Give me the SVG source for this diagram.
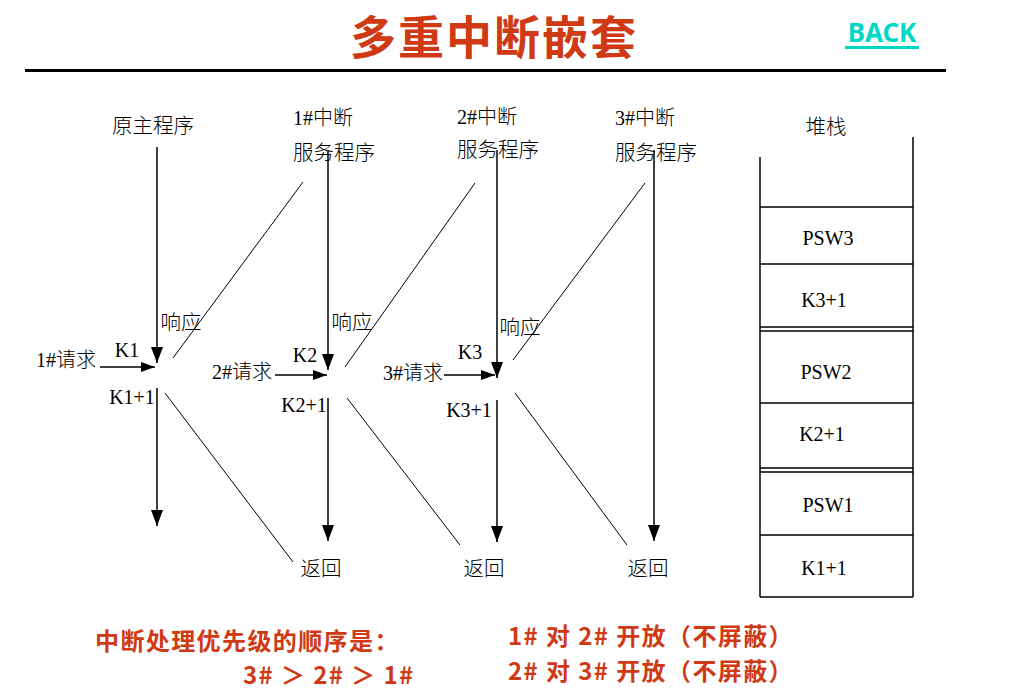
<svg xmlns="http://www.w3.org/2000/svg" width="1009" height="691" viewBox="0 0 1009 691">
  <style>
    .lbl { font-family: "Liberation Serif", "Noto Sans CJK SC", serif; font-size: 20px; fill: #000; font-weight: 300; }
    .cn { font-family: "Noto Sans CJK SC", sans-serif; font-size: 20.5px; fill: #000; font-weight: 300; }
    .red { font-family: "Noto Sans CJK SC", sans-serif; font-weight: bold; fill: #cf3a14; }
    .note { font-size: 24px; letter-spacing: 1.4px; }
    .flow { stroke: #000; stroke-width: 1.5; fill: none; }
    .thin { stroke: #000; stroke-width: 1; fill: none; }
    .stk { stroke: #000; stroke-width: 1.5; fill: none; }
  </style>
  <defs>
    <marker id="ah" markerUnits="userSpaceOnUse" markerWidth="16" markerHeight="12" refX="16" refY="6" orient="auto">
      <path d="M0,0 L16,6 L0,12 z" fill="#000"/>
    </marker>
    <marker id="ahs" markerUnits="userSpaceOnUse" markerWidth="14" markerHeight="10" refX="14" refY="5" orient="auto">
      <path d="M0,0 L14,5 L0,10 z" fill="#000"/>
    </marker>
  </defs>

  <rect width="1009" height="691" fill="#fff"/>

  <!-- heading -->
  <g id="title">
    <text x="494" y="54" text-anchor="middle" class="red" font-size="46" letter-spacing="2" fill="#d3391a">多重中断嵌套</text>
    <text x="882" y="42" text-anchor="middle" font-family="'Noto Sans', sans-serif" font-weight="bold" font-size="26" fill="#00d8c4">BACK</text>
    <rect x="845" y="46" width="74" height="3" fill="#00d8c4"/>
    <rect x="25" y="69" width="921" height="3" fill="#000"/>
  </g>

  <!-- program columns -->
  <g id="main-program">
    <text x="153" y="133" text-anchor="middle" class="cn">原主程序</text>
    <text x="66" y="367" text-anchor="middle" class="lbl">1#请求</text>
    <text x="127" y="357" text-anchor="middle" class="lbl">K1</text>
    <text x="181" y="330" text-anchor="middle" class="cn">响应</text>
    <text x="132" y="404" text-anchor="middle" class="lbl">K1+1</text>
  </g>

  <g id="isr1">
    <text x="293" y="125" class="lbl">1#中断</text>
    <text x="293" y="160" class="cn">服务程序</text>
    <text x="242" y="379" text-anchor="middle" class="lbl">2#请求</text>
    <text x="305" y="362" text-anchor="middle" class="lbl">K2</text>
    <text x="352" y="330" text-anchor="middle" class="cn">响应</text>
    <text x="304" y="412" text-anchor="middle" class="lbl">K2+1</text>
    <text x="321" y="576" text-anchor="middle" class="cn">返回</text>
  </g>

  <g id="isr2">
    <text x="457" y="124" class="lbl">2#中断</text>
    <text x="457" y="157" class="cn">服务程序</text>
    <text x="413" y="380" text-anchor="middle" class="lbl">3#请求</text>
    <text x="470" y="359" text-anchor="middle" class="lbl">K3</text>
    <text x="520" y="335" text-anchor="middle" class="cn">响应</text>
    <text x="469" y="417" text-anchor="middle" class="lbl">K3+1</text>
    <text x="484" y="576" text-anchor="middle" class="cn">返回</text>
  </g>

  <g id="isr3">
    <text x="615" y="125" class="lbl">3#中断</text>
    <text x="615" y="160" class="cn">服务程序</text>
    <text x="648" y="576" text-anchor="middle" class="cn">返回</text>
  </g>

  <!-- flow lines -->
  <g id="connectors">
    <line class="flow" x1="157" y1="147" x2="157" y2="363" marker-end="url(#ah)"/>
    <line class="flow" x1="100" y1="367" x2="155" y2="367" marker-end="url(#ahs)"/>
    <line class="thin" x1="173" y1="358" x2="303" y2="182"/>
    <line class="flow" x1="157" y1="388" x2="157" y2="526" marker-end="url(#ah)"/>
    <line class="thin" x1="165" y1="393" x2="293" y2="562"/>

    <line class="flow" x1="328" y1="150" x2="328" y2="370" marker-end="url(#ah)"/>
    <line class="flow" x1="275" y1="375" x2="327" y2="375" marker-end="url(#ahs)"/>
    <line class="thin" x1="345" y1="367" x2="475" y2="183"/>
    <line class="flow" x1="328" y1="398" x2="328" y2="541" marker-end="url(#ah)"/>
    <line class="thin" x1="347" y1="398" x2="460" y2="545"/>

    <line class="flow" x1="497" y1="150" x2="497" y2="378" marker-end="url(#ah)"/>
    <line class="flow" x1="444" y1="375" x2="495" y2="375" marker-end="url(#ahs)"/>
    <line class="thin" x1="513" y1="360" x2="645" y2="183"/>
    <line class="flow" x1="497" y1="400" x2="497" y2="542" marker-end="url(#ah)"/>
    <line class="thin" x1="515" y1="393" x2="627" y2="545"/>

    <line class="flow" x1="654" y1="150" x2="654" y2="541" marker-end="url(#ah)"/>
  </g>

  <!-- stack -->
  <g id="stack">
    <text x="826" y="134" text-anchor="middle" class="cn">堆栈</text>
    <line class="stk" x1="760" y1="157" x2="760" y2="597"/>
    <line class="stk" x1="913" y1="137" x2="913" y2="597"/>
    <line class="stk" x1="760" y1="207" x2="913" y2="207"/>
    <line class="stk" x1="760" y1="264" x2="913" y2="264"/>
    <line class="stk" x1="760" y1="327" x2="913" y2="327"/>
    <line class="stk" x1="760" y1="331" x2="913" y2="331"/>
    <line class="stk" x1="760" y1="403" x2="913" y2="403"/>
    <line class="stk" x1="760" y1="468" x2="913" y2="468"/>
    <line class="stk" x1="760" y1="472" x2="913" y2="472"/>
    <line class="stk" x1="760" y1="535" x2="913" y2="535"/>
    <line class="stk" x1="760" y1="597" x2="913" y2="597"/>
    <text x="828" y="245" text-anchor="middle" class="lbl">PSW3</text>
    <text x="824" y="307" text-anchor="middle" class="lbl">K3+1</text>
    <text x="826" y="379" text-anchor="middle" class="lbl">PSW2</text>
    <text x="822" y="441" text-anchor="middle" class="lbl">K2+1</text>
    <text x="828" y="512" text-anchor="middle" class="lbl">PSW1</text>
    <text x="824" y="575" text-anchor="middle" class="lbl">K1+1</text>
  </g>

  <!-- notes -->
  <g id="notes">
    <text x="95" y="650" class="red note" letter-spacing="2.4">中断处理优先级的顺序是：</text>
    <text x="243" y="684" class="red note" letter-spacing="2">3# ＞ 2# ＞ 1#</text>
    <text x="508" y="645" class="red note">1# 对 2# 开放（不屏蔽）</text>
    <text x="508" y="680" class="red note">2# 对 3# 开放（不屏蔽）</text>
  </g>
</svg>
